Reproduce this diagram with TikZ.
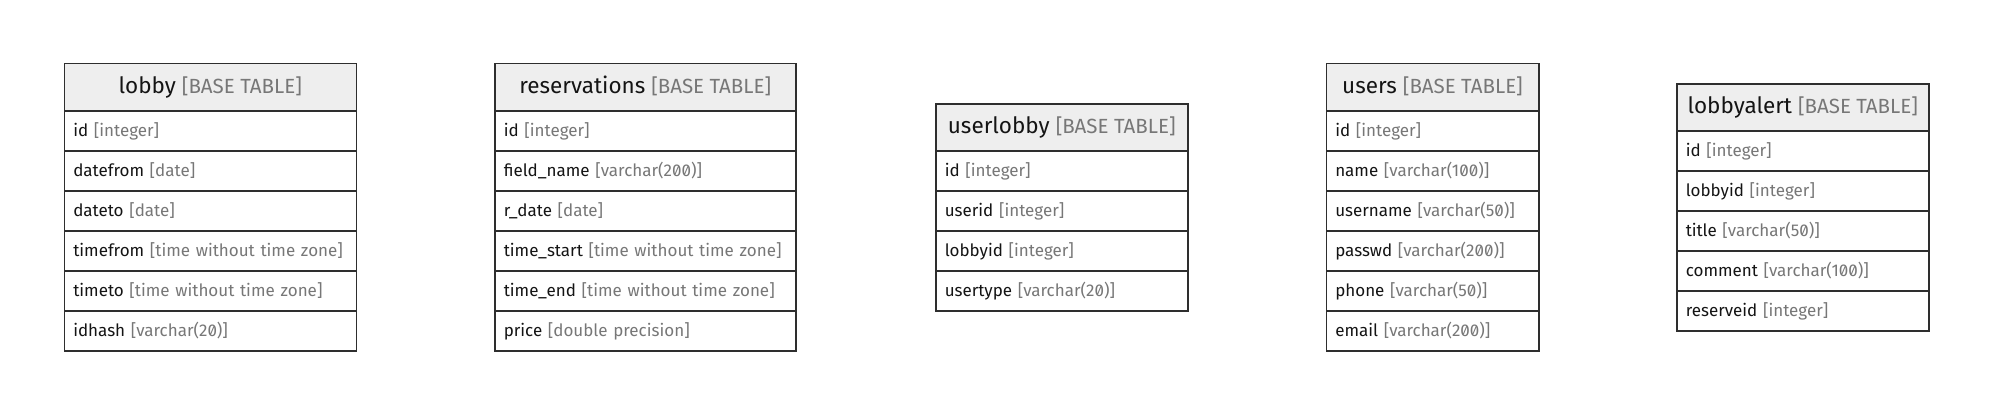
\documentclass[tikz,border=0pt]{standalone}
\usepackage{fontspec}
\setmainfont{Fira Sans}[Numbers=SlashedZero]
\definecolor{namec}{HTML}{141414}
\definecolor{typec}{HTML}{777777}
\definecolor{hdrfill}{HTML}{EEEEEE}
\definecolor{linec}{HTML}{2E2E2E}
\newcommand\hdrname[1]{{\fontsize{22.5}{24}\selectfont\color{namec}#1}}
\newcommand\hdrtype[1]{{\fontsize{20.5}{22}\selectfont\color{typec}#1}}
\newcommand\fld[2]{\mbox{{\color{namec}#1}~{\color{typec}[#2]}}}
\newcommand\dbtab[6]{%
  \pgfmathsetmacro\tabtw{#4-18}%
  \node[hdrbox, minimum width=#4, anchor=north west] (#1) at (#2,#3) {\hdrname{#5}\hspace{6pt}\hdrtype{[BASE TABLE]}};
  \foreach \fn/\ft [count=\i] in {#6} {
    \node[rowbox, minimum width=#4, text width=\tabtw, anchor=north west] (#1-\i) at (#2,#3+47+40*\i-40) {\fld{\fn}{\ft}};
  }
}
\begin{document}
\begin{tikzpicture}[x=1pt,y=-1pt,
  hdrbox/.style={draw=linec, line width=1.5pt, fill=hdrfill, minimum height=47, inner sep=0pt, text height=20, text depth=7, align=center},
  rowbox/.style={draw=linec, line width=1.5pt, fill=white, minimum height=40, inner xsep=9, inner ysep=0pt, text height=14, text depth=2, align=left, font=\fontsize{17}{19}\selectfont}]
\useasboundingbox[fill=white] (0,0) rectangle (1991,412);
\dbtab{lobby}{63.5}{63}{292}{lobby}{id/integer, datefrom/date, dateto/date, timefrom/time without time zone, timeto/time without time zone, idhash/varchar(20)}
\dbtab{reservations}{494}{63}{301}{reservations}{id/integer, field\_name/varchar(200), r\_date/date, time\_start/time without time zone, time\_end/time without time zone, price/double precision}
\dbtab{userlobby}{935}{103}{252}{userlobby}{id/integer, userid/integer, lobbyid/integer, usertype/varchar(20)}
\dbtab{users}{1325.5}{63}{212.5}{users}{id/integer, name/varchar(100), username/varchar(50), passwd/varchar(200), phone/varchar(50), email/varchar(200)}
\dbtab{lobbyalert}{1676}{83}{252}{lobbyalert}{id/integer, lobbyid/integer, title/varchar(50), comment/varchar(100), reserveid/integer}
\end{tikzpicture}
\end{document}
